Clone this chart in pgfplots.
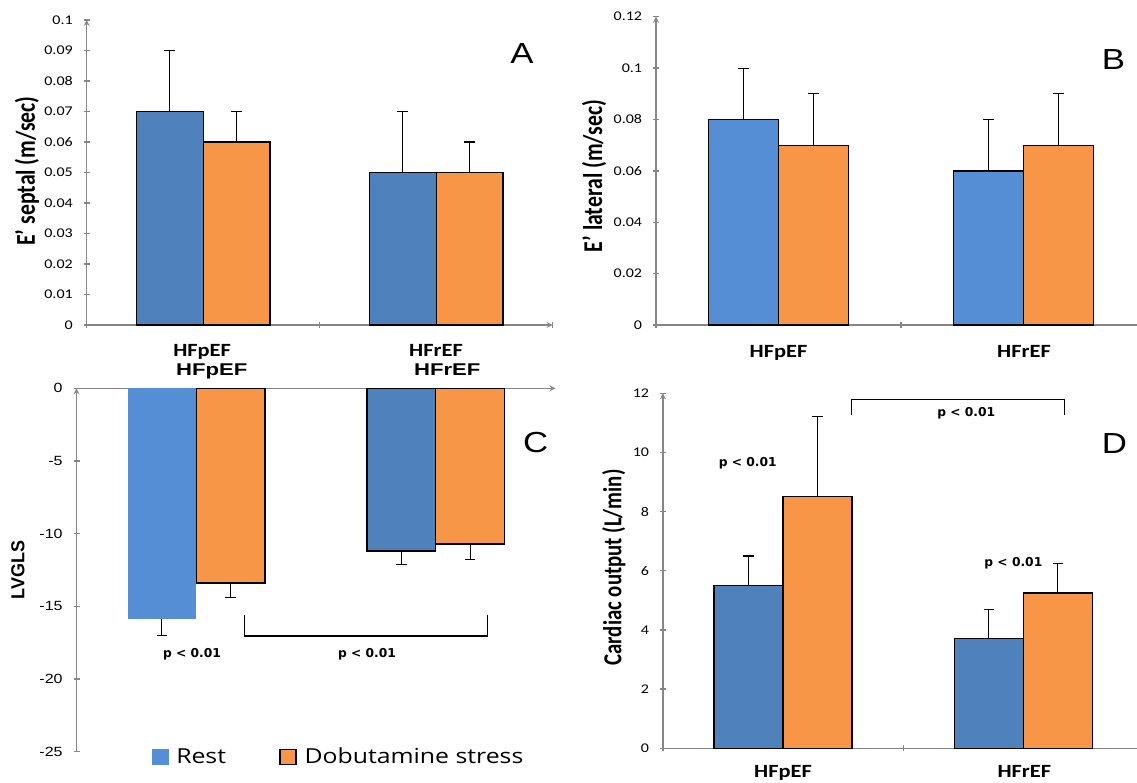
\documentclass[border=0pt]{standalone}
\usepackage{fontspec}
\usepackage{graphicx}
\usepackage{pgfplots}
\pgfplotsset{compat=1.18}
\setmainfont{Carlito}
\newfontfamily\calw[FakeStretch=1.2]{Carlito}
\newfontfamily\arw[FakeStretch=1.2]{Liberation Sans}
\newfontfamily\arcat[FakeStretch=1.3]{Liberation Sans}
\newfontfamily\legfont[FakeStretch=1.2]{Open Sans}
\newfontfamily\pfont{DejaVu Sans}

\definecolor{restA}{HTML}{4F81BD}
\definecolor{restB}{HTML}{558ED5}
\definecolor{stress}{HTML}{F79646}
\definecolor{axgray}{HTML}{868686}

\tikzset{pval/.style={font=\pfont\bfseries\fontsize{9.2}{10}\selectfont}}

\pgfplotsset{
  panel/.style={
    scale only axis, anchor=south west, clip=false,
    axis line style={axgray, line width=1pt, -},
    tick style={axgray, line width=1pt},
    tick align=outside, major tick length=4.5pt,
    xmin=0, xmax=2,
    ticklabel style={font=\calw\fontsize{10}{11}\selectfont},
    yticklabel style={inner sep=0pt, anchor=east, xshift=-8pt},
  },
  bars/.style={ybar, bar shift=0pt, bar width=0.287, forget plot,
    draw=black, line width=1pt,
    error bars/y dir=#1, error bars/y explicit,
    error bars/error bar style={black, line width=0.8pt},
    error bars/error mark options={black, line width=0.8pt, mark size=4pt, rotate=90}},
  bars/.default=plus,
}

\begin{document}
\begin{tikzpicture}
\useasboundingbox (0pt,0pt) rectangle (852.75pt,586.5pt);

% ---------- A: E' septal ----------
\begin{axis}[panel, at={(65pt,342.75pt)}, width=349.5pt, height=228.75pt,
  axis lines=left, ymin=0, ymax=0.1,
  xtick={0,1,2}, xticklabels={},
  ytick={0,0.01,0.02,0.03,0.04,0.05,0.06,0.07,0.08,0.09,0.1},
  yticklabels={0,0.01,0.02,0.03,0.04,0.05,0.06,0.07,0.08,0.09,0.1}]
\addplot[bars, fill=restA] coordinates {(0.3565,0.07) +- (0,0.02) (1.3565,0.05) +- (0,0.02)};
\addplot[bars, fill=stress] coordinates {(0.6435,0.06) +- (0,0.01) (1.6435,0.05) +- (0,0.01)};
\end{axis}

% ---------- B: E' lateral ----------
\begin{axis}[panel, at={(492pt,342.75pt)}, width=367.5pt, height=231.2pt,
  axis lines=left, ymin=0, ymax=0.12,
  xtick={0,1,2}, xticklabels={},
  ytick={0,0.02,0.04,0.06,0.08,0.1,0.12},
  yticklabels={0,0.02,0.04,0.06,0.08,0.1,0.12}]
\addplot[bars, fill=restB] coordinates {(0.3565,0.08) +- (0,0.02) (1.3565,0.06) +- (0,0.02)};
\addplot[bars, fill=stress] coordinates {(0.6435,0.07) +- (0,0.02) (1.6435,0.07) +- (0,0.02)};
\end{axis}

% ---------- C: LVGLS ----------
\begin{axis}[panel, at={(57.4pt,22.7pt)}, width=359.2pt, height=272.55pt,
  axis x line=top, axis y line=left, ymin=-25, ymax=0,
  xtick=\empty,
  ticklabel style={font=\arw\fontsize{10}{11}\selectfont},
  ytick={-25,-20,-15,-10,-5,0},
  yticklabels={-25,-20,-15,-10,-5,0},
  legend style={at={(0.157,-0.0146)}, anchor=west, draw=none, fill=none,
    legend columns=2, inner sep=0pt, outer sep=0pt,
    font=\legfont\fontsize{15.5}{17}\selectfont,
    /tikz/every odd column/.style={column sep=6pt},
    /tikz/every even column/.style={column sep=40pt},
    nodes={inner sep=0pt}}]
\addlegendimage{legend image code/.code={\fill[restB] (0pt,-5.6pt) rectangle (12pt,5.6pt);}}
\addlegendentry{Rest}
\addlegendimage{legend image code/.code={\draw[fill=stress, draw=black, line width=0.9pt] (0pt,-5.6pt) rectangle (12pt,5.6pt);}}
\addlegendentry{Dobutamine stress}
\addplot[bars=minus, fill=restB, draw=none] coordinates {(0.3565,-15.9) +- (0,1.1)};
\addplot[bars=minus, fill=restA] coordinates {(1.3565,-11.2) +- (0,0.9)};
\addplot[bars=minus, fill=stress] coordinates {(0.6435,-13.4) +- (0,1.0) (1.6435,-10.7) +- (0,1.1)};
\draw[black, line width=0.8pt] (axis cs:0.70,-15.6) -- (axis cs:0.70,-17.04) -- (axis cs:1.715,-17.04) -- (axis cs:1.715,-15.6);
\node[pval] at (axis cs:0.482,-18.29) {p < 0.01};
\node[pval] at (axis cs:1.213,-18.29) {p < 0.01};
\end{axis}

% ---------- D: cardiac output ----------
\begin{axis}[panel, at={(497.2pt,25.3pt)}, width=360.5pt, height=266.25pt,
  axis lines=left, ymin=0, ymax=12,
  xtick={0,1,2}, xticklabels={},
  ytick={0,2,4,6,8,10,12},
  yticklabels={0,2,4,6,8,10,12}]
\addplot[bars, fill=restA] coordinates {(0.3565,5.5) +- (0,1.0) (1.3565,3.7) +- (0,1.0)};
\addplot[bars, fill=stress] coordinates {(0.6435,8.5) +- (0,2.7) (1.6435,5.25) +- (0,1.0)};
\draw[black, line width=0.8pt] (axis cs:0.785,11.28) -- (axis cs:0.785,11.8) -- (axis cs:1.67,11.8) -- (axis cs:1.67,11.28);
\node[pval] at (axis cs:0.353,9.63) {p < 0.01};
\node[pval] at (axis cs:1.262,11.32) {p < 0.01};
\node[pval] at (axis cs:1.458,6.25) {p < 0.01};
\end{axis}

% ---------- titles, letters, category names ----------
\begin{scope}[x=0.75pt, y=-0.75pt, shift={(0pt,586.5pt)}]
  \node[rotate=90, font=\bfseries\fontsize{16.3}{18}\selectfont] at (27,171) {\scalebox{1}[1.25]{E’ septal (m/sec)}};
  \node[rotate=90, font=\bfseries\fontsize{16.3}{18}\selectfont] at (594,176) {\scalebox{1}[1.25]{E’ lateral (m/sec)}};
  \node[rotate=90, font=\arw\bfseries\fontsize{11.25}{12}\selectfont] at (18,570) {\scalebox{1}[1.25]{LVGLS}};
  \node[rotate=90, font=\bfseries\fontsize{15.6}{17}\selectfont] at (613.7,567.5) {\scalebox{1}[1.25]{Cardiac output (L/min)}};
  \foreach \l/\x/\y in {A/522/63.3, B/1113.5/69.3, C/535.6/453, D/1114.4/453.3}
    \node[anchor=base, inner sep=0pt, font=\arw\fontsize{21.75}{24}\selectfont] at (\x,\y) {\l};
  \foreach \t/\x/\y in {HFpEF/202.1/357, HFrEF/436/357, HFpEF/778.5/358, HFrEF/1024/358, HFpEF/783/777, HFrEF/1024.3/777}
    \node[anchor=base, inner sep=0pt, font=\calw\bfseries\fontsize{14}{16}\selectfont] at (\x,\y) {\t};
  \foreach \t/\x in {HFpEF/211.7, HFrEF/447.2}
    \node[anchor=base, inner sep=0pt, font=\arcat\bfseries\fontsize{12.75}{14}\selectfont] at (\x,376) {\t};
\end{scope}
\end{tikzpicture}
\end{document}
